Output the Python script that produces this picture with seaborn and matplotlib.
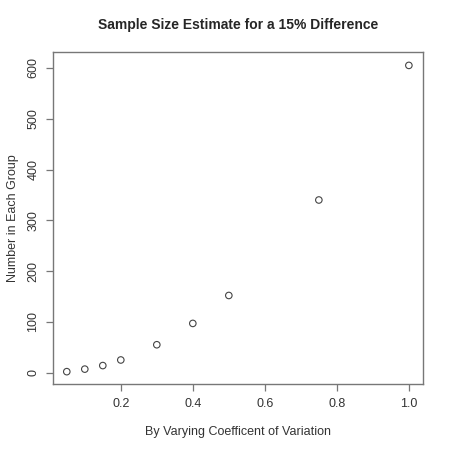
import numpy as np
import pandas as pd
import matplotlib
matplotlib.use("Agg")
import matplotlib.pyplot as plt
import seaborn as sns

# coefficient of variation vs. required group size
cv_values = [0.05, 0.10, 0.15, 0.20, 0.30, 0.40, 0.50, 0.75, 1.00]
n_per_group = [2, 7, 14, 25, 55, 97, 152, 340, 605]

x_ticks = [0.2, 0.4, 0.6, 0.8, 1.0]
y_ticks = [0, 100, 200, 300, 400, 500, 600]

df = pd.DataFrame({"cv": cv_values, "n": n_per_group})

sns.set_style("white")
plt.rcParams["font.family"] = ["Liberation Sans", "DejaVu Sans"]

fig = plt.figure(figsize=(4.5, 4.5), dpi=100)
ax = fig.add_axes([0.118, 0.147, 0.821, 0.737])

sns.scatterplot(data=df, x="cv", y="n", ax=ax, marker="o", s=22,
                facecolor="none", edgecolor="#444444", linewidth=0.8)

ax.set_xlim(0.012, 1.038)
ax.set_ylim(-22, 631)
ax.set_xticks(x_ticks)
ax.set_xticklabels(["0.2", "0.4", "0.6", "0.8", "1.0"])
ax.set_yticks(y_ticks)
ax.set_yticklabels([str(v) for v in y_ticks], rotation=90, va="center")

for sp in ax.spines.values():
    sp.set_visible(True)
    sp.set_color("#777777")
    sp.set_linewidth(1.0)

ax.tick_params(axis="both", which="both", length=5, width=0.9, color="#777777",
               labelsize=9, labelcolor="#333333", pad=5,
               bottom=True, left=True, top=False, right=False)

ax.set_title("Sample Size Estimate for a 15% Difference", fontsize=10,
             fontweight="bold", pad=17)
ax.set_xlabel("By Varying Coefficent of Variation", fontsize=9,
              color="#333333", labelpad=12)
ax.set_ylabel("Number in Each Group", fontsize=9, color="#333333",
              labelpad=6)

fig.savefig("out.png", dpi=100)
